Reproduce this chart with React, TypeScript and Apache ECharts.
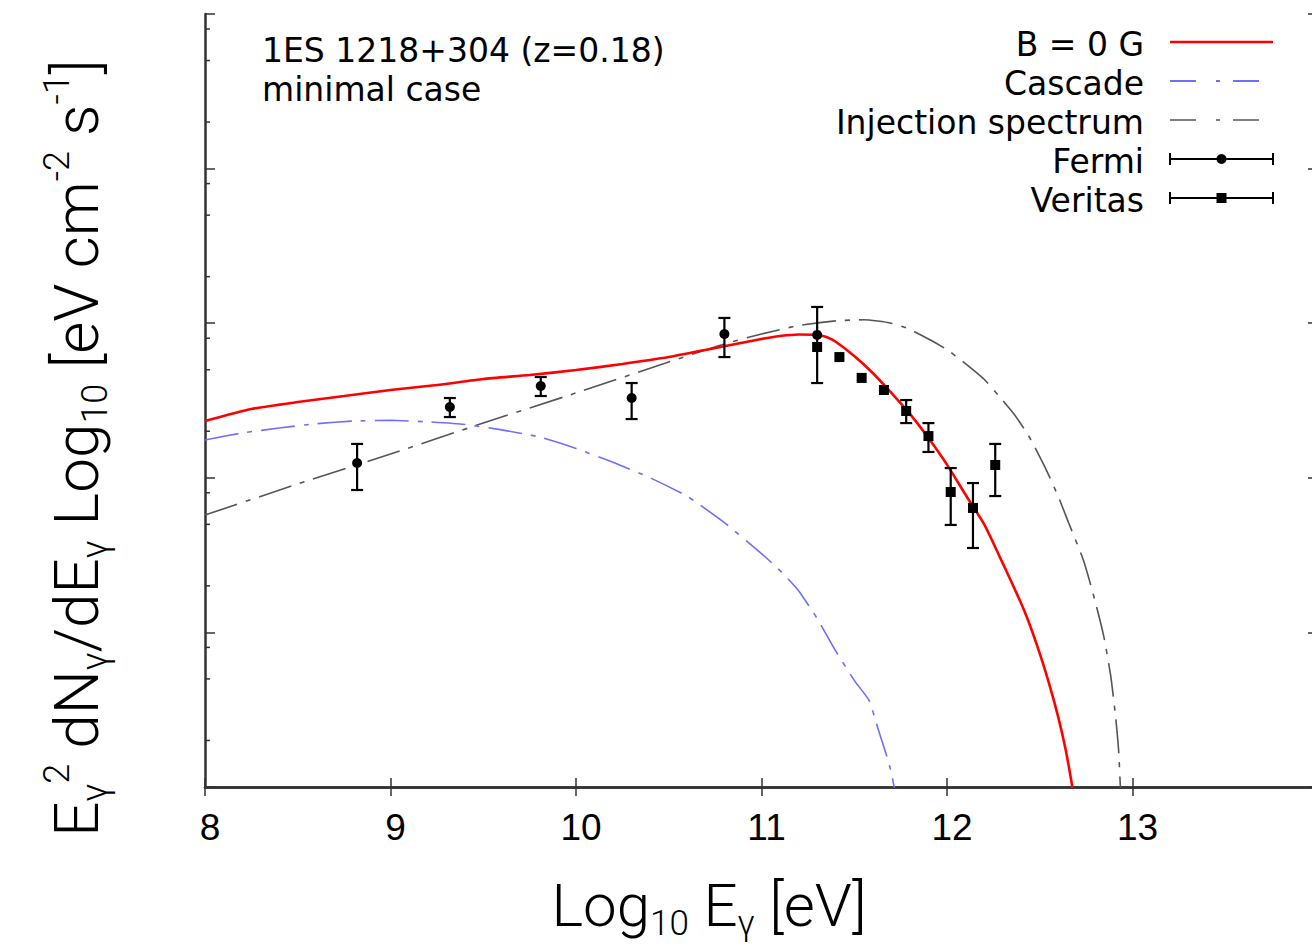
import React, { useEffect, useRef } from 'react';
import * as echarts from 'echarts';

// ---------- data ----------
const xTickValues = [8, 9, 10, 11, 12, 13, 14];
const yMinorTicks = [0.301, 0.699, 0.903, 1.301, 1.699, 1.903, 2.301, 2.699, 2.903, 3.301, 3.699, 3.903, 4.301, 4.699, 4.903];

const bZeroCurve: number[][] = [
  [8.0, 2.367], [8.25, 2.445], [8.5, 2.49], [8.75, 2.529], [9.0, 2.568], [9.25, 2.6], [9.5, 2.639],
  [9.75, 2.665], [10.0, 2.697], [10.25, 2.736], [10.5, 2.781], [10.75, 2.84], [11.0, 2.898],
  [11.1, 2.917], [11.2, 2.927], [11.3, 2.924], [11.35, 2.911], [11.4, 2.88], [11.5, 2.788],
  [11.6, 2.678], [11.7, 2.549], [11.8, 2.413], [11.9, 2.257], [12.0, 2.085], [12.1, 1.89],
  [12.2, 1.7], [12.28, 1.5], [12.35, 1.32], [12.42, 1.13], [12.49, 0.9], [12.55, 0.67],
  [12.6, 0.45], [12.64, 0.24], [12.67, 0.04], [12.7, -0.18],
];

const cascadeCurve: number[][] = [
  [8.0, 2.245], [8.2, 2.29], [8.4, 2.322], [8.6, 2.35], [8.8, 2.367], [9.0, 2.372], [9.2, 2.362],
  [9.4, 2.345], [9.6, 2.31], [9.8, 2.265], [10.0, 2.19], [10.2, 2.1], [10.4, 2.0], [10.6, 1.88],
  [10.8, 1.71], [11.0, 1.51], [11.1, 1.4], [11.2, 1.27], [11.3, 1.09], [11.4, 0.88], [11.5, 0.69],
  [11.58, 0.56], [11.63, 0.37], [11.69, 0.14], [11.75, -0.2],
];

const injectionCurve: number[][] = [
  [8.0, 1.759], [8.5, 1.96], [9.0, 2.154], [9.5, 2.354], [10.0, 2.549], [10.5, 2.749], [10.8, 2.866],
  [11.0, 2.93], [11.2, 2.985], [11.4, 3.015], [11.55, 3.022], [11.7, 3.0], [11.8, 2.96], [11.918, 2.886],
  [12.01, 2.821], [12.101, 2.737], [12.198, 2.64], [12.279, 2.531], [12.36, 2.414], [12.44, 2.272],
  [12.532, 2.059], [12.602, 1.872], [12.655, 1.711], [12.736, 1.465], [12.79, 1.24], [12.844, 0.981],
  [12.882, 0.723], [12.908, 0.465], [12.925, 0.239], [12.935, 0.0], [12.95, -0.2],
];

const fermiX = [8.82, 9.32, 9.81, 10.3, 10.8, 11.3];
const fermiY = [2.096, 2.458, 2.594, 2.516, 2.93, 2.924];
const fermiLo = [1.921, 2.393, 2.529, 2.38, 2.781, 2.613];
const fermiHi = [2.219, 2.516, 2.652, 2.613, 3.034, 3.105];

const veritasX = [11.3, 11.42, 11.54, 11.66, 11.78, 11.9, 12.02, 12.14, 12.26];
const veritasY = [2.846, 2.781, 2.646, 2.568, 2.432, 2.27, 1.908, 1.805, 2.083];
const veritasLo = [null, null, null, null, 2.354, 2.167, 1.695, 1.546, 1.882];
const veritasHi = [null, null, null, null, 2.503, 2.354, 2.063, 1.966, 2.219];

const legendLabels = ['B = 0 G', 'Cascade', 'Injection spectrum', 'Fermi', 'Veritas'];
const annotationLines = ['1ES 1218+304 (z=0.18)', 'minimal case'];

// ---------- styles ----------
const RED = '#ff0000';
const BLUE = '#6e6eff';
const GRAY = '#555555';
const AXIS = '#333333';
const TEXT_FONT = '"DejaVu Sans", sans-serif';
const TICK_FONT = '"Liberation Sans", Arial, sans-serif';
const TITLE_FONT = 'Roboto, "Liberation Sans", sans-serif';

function errorBarSeries(xs: number[], ys: number[], lo: (number | null)[], hi: (number | null)[]) {
  const data: number[][] = [];
  xs.forEach((x, i) => {
    if (lo[i] != null && hi[i] != null) data.push([x, ys[i], lo[i] as number, hi[i] as number]);
  });
  return {
    type: 'custom',
    data,
    encode: { x: 0, y: 1 },
    z: 5,
    silent: true,
    renderItem: (params: any, api: any) => {
      const x = api.value(0);
      const pLo = api.coord([x, api.value(2)]);
      const pHi = api.coord([x, api.value(3)]);
      const hw = 6;
      const style = { stroke: '#000', lineWidth: 2.2 };
      return {
        type: 'group',
        children: [
          { type: 'line', shape: { x1: pLo[0], y1: pLo[1], x2: pHi[0], y2: pHi[1] }, style },
          { type: 'line', shape: { x1: pLo[0] - hw, y1: pLo[1], x2: pLo[0] + hw, y2: pLo[1] }, style },
          { type: 'line', shape: { x1: pHi[0] - hw, y1: pHi[1], x2: pHi[0] + hw, y2: pHi[1] }, style },
        ],
      };
    },
  };
}

function subSup(main: number, small: number) {
  return {
    m: { fontSize: main, fontFamily: TITLE_FONT, fontWeight: 300, lineHeight: main * 1.2, fill: '#000' },
    s: { fontSize: small, fontFamily: TITLE_FONT, fontWeight: 300, lineHeight: small * 1.1, verticalAlign: 'bottom', fill: '#000' },
    p: { fontSize: small, fontFamily: TITLE_FONT, fontWeight: 300, lineHeight: small, verticalAlign: 'top', fill: '#000' },
  };
}

export default function App() {
  const ref = useRef<HTMLDivElement>(null);

  useEffect(() => {
    if (!ref.current) return;
    const chart = echarts.init(ref.current, undefined, { renderer: 'svg' });

    const legendRowY = [42, 81, 120, 159, 198];
    const legendTextX = 1144;
    const sx1 = 1170;
    const sx2 = 1273;
    const graphics: any[] = [];

    legendLabels.forEach((label, i) => {
      graphics.push({
        type: 'text',
        x: legendTextX,
        y: legendRowY[i] + 2,
        style: { text: label, fontSize: 33, fontFamily: TEXT_FONT, fill: '#000', align: 'right', verticalAlign: 'middle' },
      });
    });
    // legend samples
    graphics.push({ type: 'line', shape: { x1: sx1, y1: legendRowY[0], x2: sx2, y2: legendRowY[0] }, style: { stroke: RED, lineWidth: 2.5 } });
    graphics.push({ type: 'line', shape: { x1: sx1, y1: legendRowY[1], x2: sx2, y2: legendRowY[1] }, style: { stroke: BLUE, lineWidth: 2, lineDash: [26, 20, 4, 13] } });
    graphics.push({ type: 'line', shape: { x1: sx1, y1: legendRowY[2], x2: sx2, y2: legendRowY[2] }, style: { stroke: GRAY, lineWidth: 1.6, lineDash: [26, 20, 4, 13] } });
    [3, 4].forEach((r) => {
      const y = legendRowY[r];
      const st = { stroke: '#000', lineWidth: 2 };
      graphics.push({ type: 'line', shape: { x1: sx1, y1: y, x2: sx2, y2: y }, style: st });
      graphics.push({ type: 'line', shape: { x1: sx1, y1: y - 6, x2: sx1, y2: y + 6 }, style: st });
      graphics.push({ type: 'line', shape: { x1: sx2, y1: y - 6, x2: sx2, y2: y + 6 }, style: st });
    });
    graphics.push({ type: 'circle', shape: { cx: (sx1 + sx2) / 2, cy: legendRowY[3], r: 5 }, style: { fill: '#000' } });
    graphics.push({ type: 'rect', shape: { x: (sx1 + sx2) / 2 - 5, y: legendRowY[4] - 5, width: 10, height: 10 }, style: { fill: '#000' } });

    // annotation
    graphics.push({
      type: 'text', x: 262, y: 50,
      style: { text: annotationLines[0], fontSize: 33, fontFamily: TEXT_FONT, fill: '#000', align: 'left', verticalAlign: 'middle' },
    });
    graphics.push({
      type: 'text', x: 262, y: 89,
      style: { text: annotationLines[1], fontSize: 33, fontFamily: TEXT_FONT, fill: '#000', align: 'left', verticalAlign: 'middle' },
    });

    // axis titles
    graphics.push({
      type: 'text', x: 709, y: 905,
      style: {
        text: '{m|Log}{s|10}{m| E}{s|γ}{m| [eV]}',
        rich: subSup(60, 35), align: 'center', verticalAlign: 'middle', fill: '#000',
      },
    });
    graphics.push({
      type: 'text', x: 76, y: 448, rotation: Math.PI / 2,
      style: {
        text: '{m|E}{s|γ}{p|2}{m| dN}{s|γ}{m|/dE}{s|γ}{m| Log}{s|10}{m| [eV cm}{p|-2}{m| s}{p|-1}{m|]}',
        rich: subSup(62, 36), align: 'center', verticalAlign: 'middle', fill: '#000',
      },
    });

    const lineAxisStyle = { show: true, lineStyle: { color: AXIS, width: 2.5 } };

    const option: any = {
      animation: false,
      backgroundColor: '#ffffff',
      grid: { left: 205, top: 14, right: 1, bottom: 162, containLabel: false },
      xAxis: [
        {
          type: 'value', min: 8, max: 14, interval: 1, position: 'bottom',
          axisLine: lineAxisStyle,
          axisTick: { show: true, inside: true, length: 9, lineStyle: { color: AXIS, width: 1.5 } },
          axisLabel: {
            show: true, fontSize: 37, fontFamily: TICK_FONT, color: '#000', margin: 22,
            padding: [0, 0, 0, 10],
            formatter: (v: number) => (xTickValues.includes(v) && v < 14 ? String(v) : ''),
          },
          splitLine: { show: false },
        },
        {
          type: 'value', min: 8, max: 14, interval: 1, position: 'top',
          axisLine: lineAxisStyle,
          axisTick: { show: true, inside: true, length: 9, lineStyle: { color: AXIS, width: 1.5 } },
          axisLabel: { show: false },
          splitLine: { show: false },
        },
      ],
      yAxis: [
        {
          type: 'value', min: 0, max: 5, interval: 1, position: 'left',
          axisLine: lineAxisStyle,
          axisTick: { show: true, inside: true, length: 10, lineStyle: { color: AXIS, width: 1.5 } },
          axisLabel: { show: false },
          splitLine: { show: false },
        },
        {
          type: 'value', min: 0, max: 5, interval: 1, position: 'right',
          axisLine: lineAxisStyle,
          axisTick: { show: true, inside: true, length: 10, lineStyle: { color: AXIS, width: 1.5 } },
          axisLabel: { show: false },
          splitLine: { show: false },
        },
      ],
      series: [
        {
          type: 'custom',
          data: yMinorTicks.map((v) => [8, v]),
          encode: { x: 0, y: 1 },
          silent: true,
          clip: false,
          z: 1,
          renderItem: (params: any, api: any) => {
            const v = api.value(1);
            const pl = api.coord([8, v]);
            const pr = api.coord([14, v]);
            const st = { stroke: AXIS, lineWidth: 1.5 };
            return {
              type: 'group',
              children: [
                { type: 'line', shape: { x1: pl[0], y1: pl[1], x2: pl[0] + 5, y2: pl[1] }, style: st },
                { type: 'line', shape: { x1: pr[0], y1: pr[1], x2: pr[0] - 5, y2: pr[1] }, style: st },
              ],
            };
          },
        },
        {
          name: 'Injection spectrum', type: 'line', data: injectionCurve, showSymbol: false, smooth: 0.2,
          clip: true, z: 2,
          lineStyle: { color: GRAY, width: 1.6, type: [34, 9, 5, 9] },
        },
        {
          name: 'Cascade', type: 'line', data: cascadeCurve, showSymbol: false, smooth: 0.15,
          clip: true, z: 2,
          lineStyle: { color: BLUE, width: 1.6, type: [34, 9, 5, 9] },
        },
        {
          name: 'B = 0 G', type: 'line', data: bZeroCurve, showSymbol: false, smooth: 0.2,
          clip: true, z: 3,
          lineStyle: { color: RED, width: 2.6 },
        },
        errorBarSeries(fermiX, fermiY, fermiLo, fermiHi),
        errorBarSeries(veritasX, veritasY, veritasLo, veritasHi),
        {
          name: 'Fermi', type: 'scatter', symbol: 'circle', symbolSize: 10, z: 6,
          data: fermiX.map((x, i) => [x, fermiY[i]]),
          itemStyle: { color: '#000', opacity: 1 },
        },
        {
          name: 'Veritas', type: 'scatter', symbol: 'rect', symbolSize: 10, z: 6,
          data: veritasX.map((x, i) => [x, veritasY[i]]),
          itemStyle: { color: '#000', opacity: 1 },
        },
      ],
      graphic: graphics,
    };

    chart.setOption(option);
    return () => chart.dispose();
  }, []);

  return (
    <div
      ref={ref}
      style={{ position: 'fixed', left: 0, top: 0, width: 1321, height: 949, background: '#fff' }}
    />
  );
}
